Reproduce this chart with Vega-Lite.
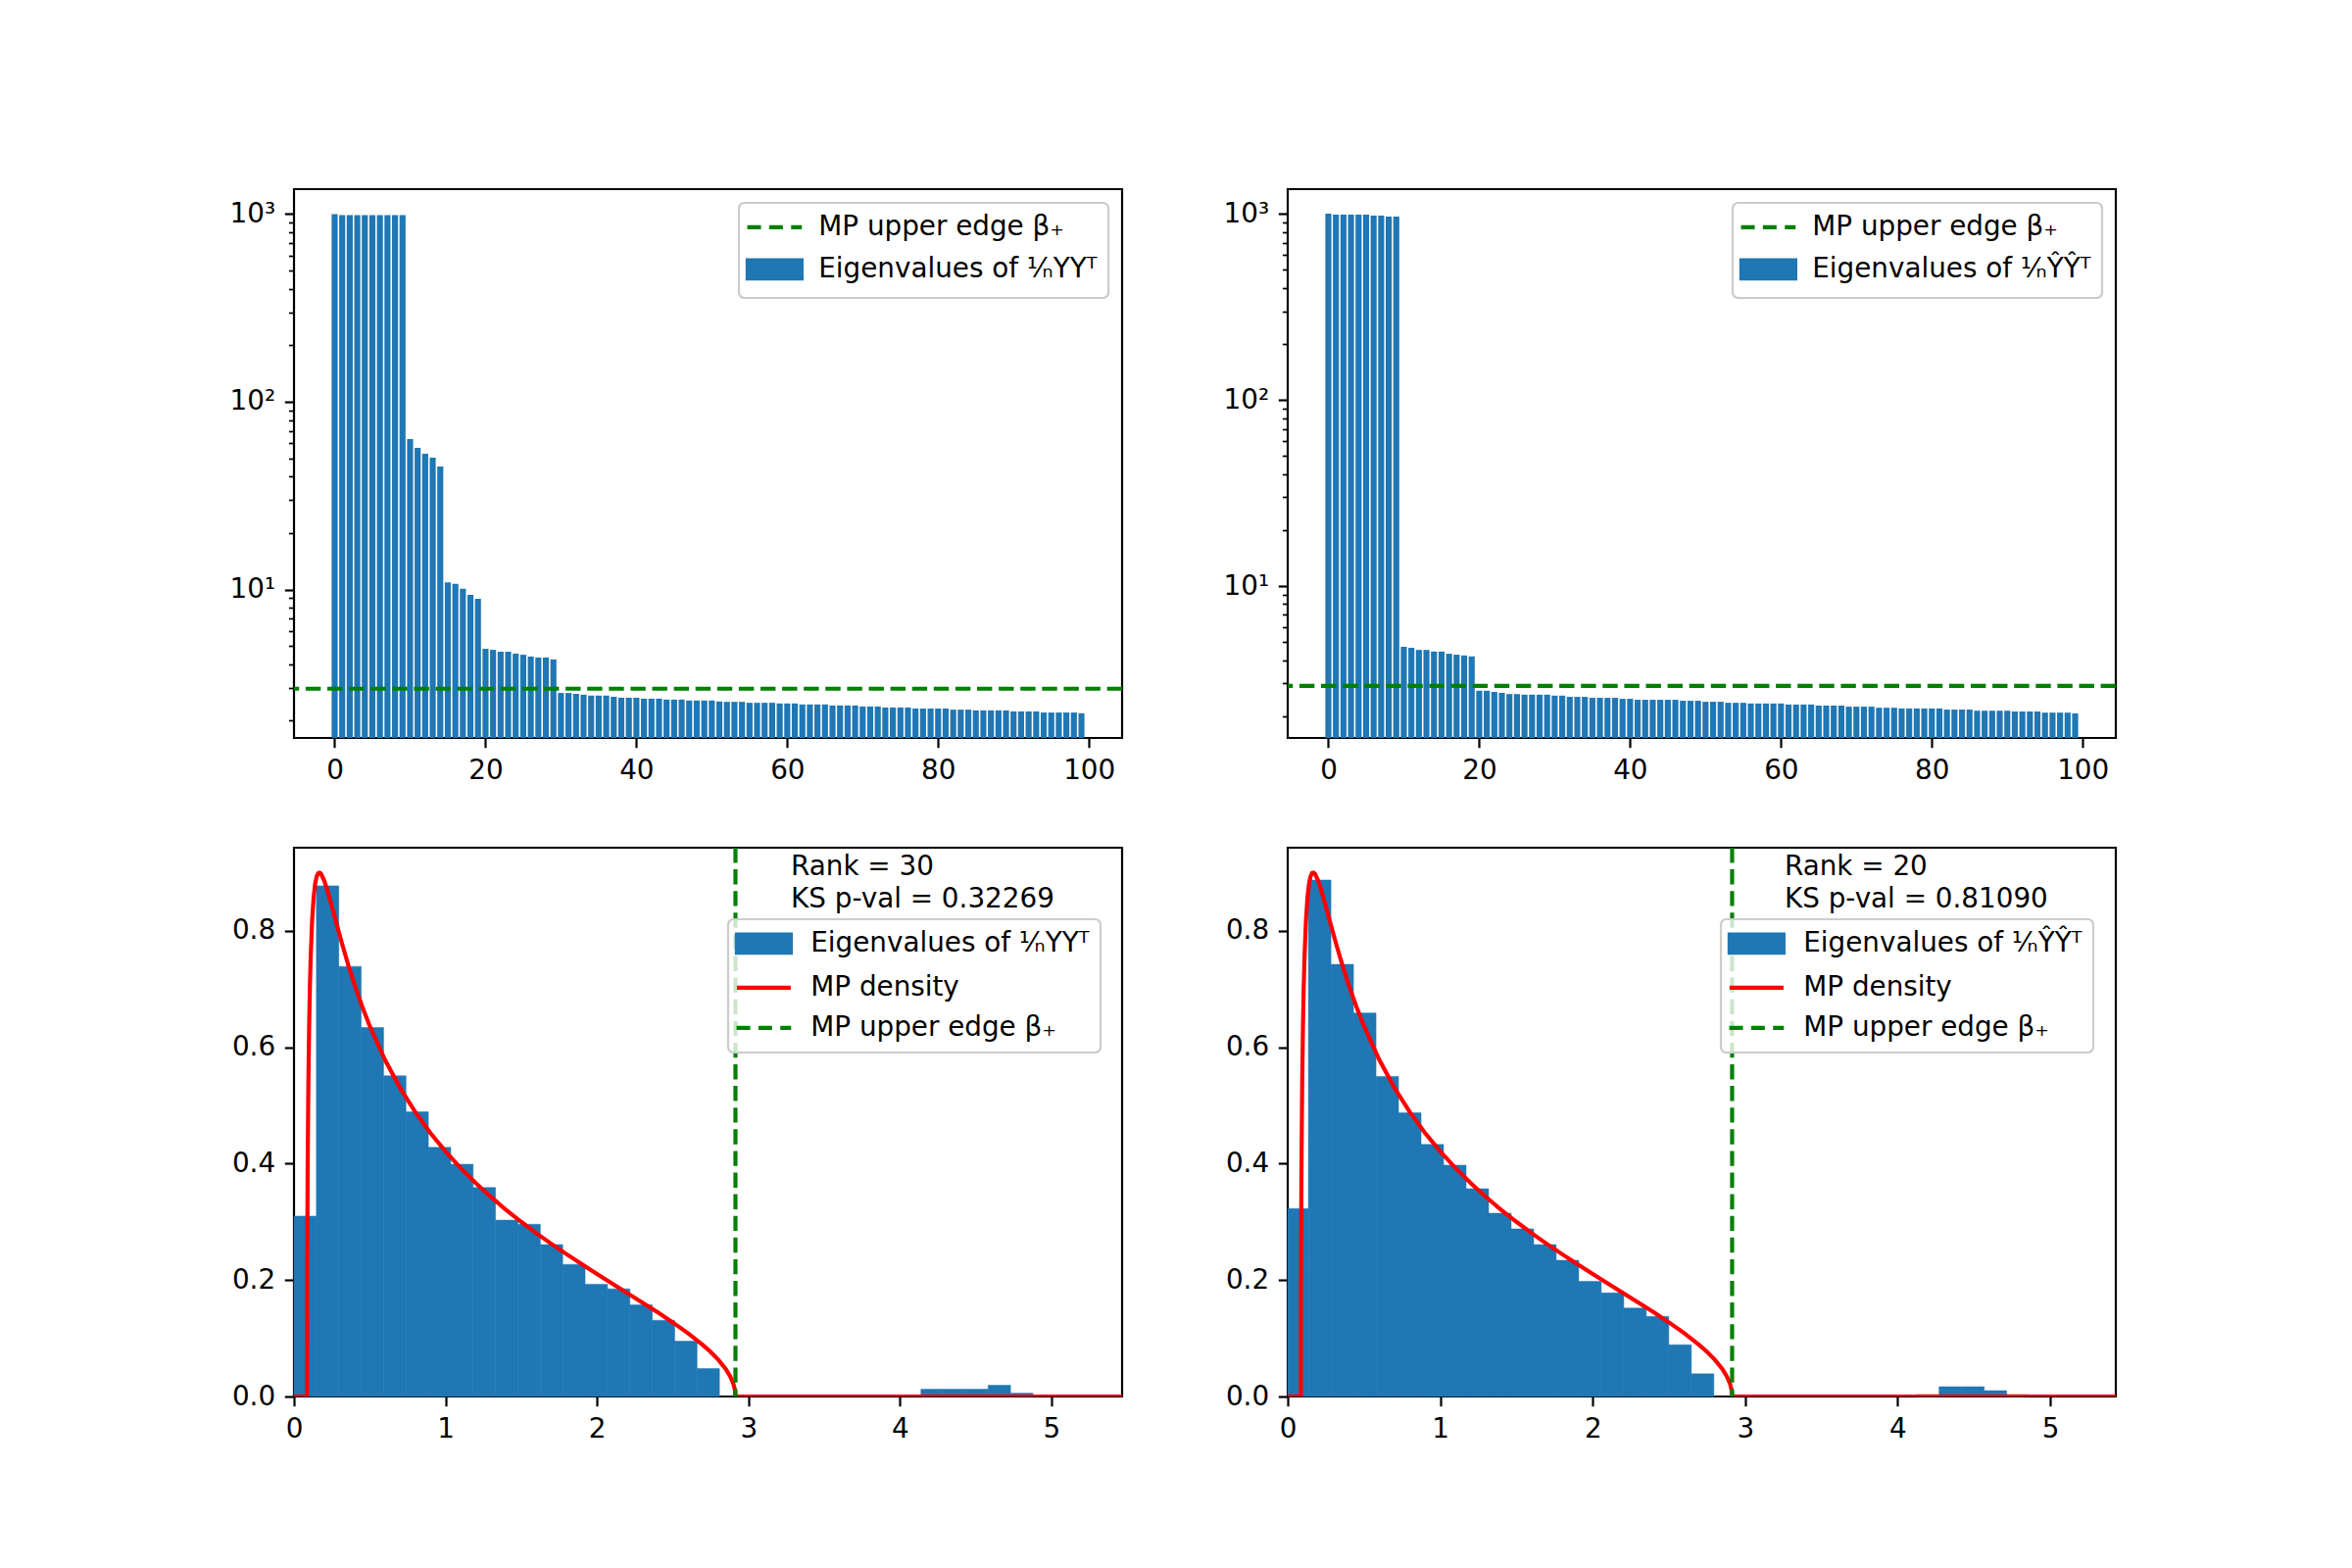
{
  "$schema": "https://vega.github.io/schema/vega-lite/v6.json",
  "background": "white",
  "padding": {"left": 232, "top": 191, "right": 10, "bottom": 10},
  "bounds": "flush",
  "spacing": 672,
  "datasets": {
    "tl": [
      {"i":0,"v":1000},{"i":1,"v":987},{"i":2,"v":987},{"i":3,"v":987},{"i":4,"v":987},{"i":5,"v":987},{"i":6,"v":987},{"i":7,"v":987},{"i":8,"v":987},{"i":9,"v":987},
      {"i":10,"v":63.4},{"i":11,"v":56.9},{"i":12,"v":52.9},{"i":13,"v":50.4},{"i":14,"v":45.2},
      {"i":15,"v":10.9},{"i":16,"v":10.7},{"i":17,"v":10.1},{"i":18,"v":9.35},{"i":19,"v":8.93},
      {"i":20,"v":4.83},{"i":21,"v":4.77},{"i":22,"v":4.66},{"i":23,"v":4.66},{"i":24,"v":4.55},{"i":25,"v":4.49},{"i":26,"v":4.39},{"i":27,"v":4.34},{"i":28,"v":4.34},{"i":29,"v":4.24},
      {"i":30,"v":2.81},{"i":31,"v":2.81},{"i":32,"v":2.78},{"i":33,"v":2.75},{"i":34,"v":2.72},{"i":35,"v":2.72},{"i":36,"v":2.72},{"i":37,"v":2.68},{"i":38,"v":2.65},{"i":39,"v":2.65},
      {"i":40,"v":2.65},{"i":41,"v":2.62},{"i":42,"v":2.62},{"i":43,"v":2.62},{"i":44,"v":2.59},{"i":45,"v":2.59},{"i":46,"v":2.59},{"i":47,"v":2.56},{"i":48,"v":2.56},{"i":49,"v":2.56},
      {"i":50,"v":2.56},{"i":51,"v":2.53},{"i":52,"v":2.52},{"i":53,"v":2.52},{"i":54,"v":2.52},{"i":55,"v":2.49},{"i":56,"v":2.49},{"i":57,"v":2.49},{"i":58,"v":2.49},{"i":59,"v":2.47},
      {"i":60,"v":2.47},{"i":61,"v":2.47},{"i":62,"v":2.44},{"i":63,"v":2.44},{"i":64,"v":2.44},{"i":65,"v":2.44},{"i":66,"v":2.41},{"i":67,"v":2.41},{"i":68,"v":2.41},{"i":69,"v":2.41},
      {"i":70,"v":2.38},{"i":71,"v":2.38},{"i":72,"v":2.38},{"i":73,"v":2.35},{"i":74,"v":2.35},{"i":75,"v":2.35},{"i":76,"v":2.35},{"i":77,"v":2.32},{"i":78,"v":2.32},{"i":79,"v":2.32},
      {"i":80,"v":2.32},{"i":81,"v":2.32},{"i":82,"v":2.29},{"i":83,"v":2.29},{"i":84,"v":2.29},{"i":85,"v":2.27},{"i":86,"v":2.27},{"i":87,"v":2.27},{"i":88,"v":2.27},{"i":89,"v":2.27},
      {"i":90,"v":2.24},{"i":91,"v":2.24},{"i":92,"v":2.24},{"i":93,"v":2.24},{"i":94,"v":2.21},{"i":95,"v":2.21},{"i":96,"v":2.21},{"i":97,"v":2.21},{"i":98,"v":2.21},{"i":99,"v":2.19}
    ],
    "tr": [
      {"i":0,"v":1002},{"i":1,"v":992},{"i":2,"v":992},{"i":3,"v":992},{"i":4,"v":992},{"i":5,"v":992},{"i":6,"v":980},{"i":7,"v":980},{"i":8,"v":967},{"i":9,"v":967},
      {"i":10,"v":4.72},{"i":11,"v":4.66},{"i":12,"v":4.54},{"i":13,"v":4.54},{"i":14,"v":4.45},{"i":15,"v":4.45},{"i":16,"v":4.33},{"i":17,"v":4.28},{"i":18,"v":4.24},{"i":19,"v":4.19},
      {"i":20,"v":2.74},{"i":21,"v":2.74},{"i":22,"v":2.70},{"i":23,"v":2.67},{"i":24,"v":2.63},{"i":25,"v":2.63},{"i":26,"v":2.61},{"i":27,"v":2.61},{"i":28,"v":2.61},{"i":29,"v":2.61},
      {"i":30,"v":2.58},{"i":31,"v":2.58},{"i":32,"v":2.54},{"i":33,"v":2.54},{"i":34,"v":2.54},{"i":35,"v":2.51},{"i":36,"v":2.51},{"i":37,"v":2.51},{"i":38,"v":2.51},{"i":39,"v":2.48},
      {"i":40,"v":2.48},{"i":41,"v":2.45},{"i":42,"v":2.45},{"i":43,"v":2.45},{"i":44,"v":2.45},{"i":45,"v":2.45},{"i":46,"v":2.45},{"i":47,"v":2.42},{"i":48,"v":2.42},{"i":49,"v":2.42},
      {"i":50,"v":2.39},{"i":51,"v":2.39},{"i":52,"v":2.39},{"i":53,"v":2.36},{"i":54,"v":2.36},{"i":55,"v":2.36},{"i":56,"v":2.34},{"i":57,"v":2.34},{"i":58,"v":2.34},{"i":59,"v":2.34},
      {"i":60,"v":2.34},{"i":61,"v":2.31},{"i":62,"v":2.31},{"i":63,"v":2.31},{"i":64,"v":2.31},{"i":65,"v":2.28},{"i":66,"v":2.28},{"i":67,"v":2.28},{"i":68,"v":2.28},{"i":69,"v":2.25},
      {"i":70,"v":2.25},{"i":71,"v":2.25},{"i":72,"v":2.25},{"i":73,"v":2.22},{"i":74,"v":2.22},{"i":75,"v":2.22},{"i":76,"v":2.20},{"i":77,"v":2.20},{"i":78,"v":2.20},{"i":79,"v":2.20},
      {"i":80,"v":2.20},{"i":81,"v":2.20},{"i":82,"v":2.17},{"i":83,"v":2.17},{"i":84,"v":2.17},{"i":85,"v":2.17},{"i":86,"v":2.14},{"i":87,"v":2.14},{"i":88,"v":2.14},{"i":89,"v":2.14},
      {"i":90,"v":2.14},{"i":91,"v":2.12},{"i":92,"v":2.12},{"i":93,"v":2.12},{"i":94,"v":2.12},{"i":95,"v":2.09},{"i":96,"v":2.09},{"i":97,"v":2.09},{"i":98,"v":2.09},{"i":99,"v":2.07}
    ],
    "bl": [
      {"a":0,"b":0.1478,"d":0.31},{"a":0.1478,"b":0.2956,"d":0.8775},{"a":0.2956,"b":0.4434,"d":0.739},{"a":0.4434,"b":0.5912,"d":0.634},
      {"a":0.5912,"b":0.739,"d":0.551},{"a":0.739,"b":0.8868,"d":0.489},{"a":0.8868,"b":1.0346,"d":0.428},{"a":1.0346,"b":1.1824,"d":0.399},
      {"a":1.1824,"b":1.3302,"d":0.359},{"a":1.3302,"b":1.478,"d":0.303},{"a":1.478,"b":1.6258,"d":0.296},{"a":1.6258,"b":1.7736,"d":0.261},
      {"a":1.7736,"b":1.9214,"d":0.227},{"a":1.9214,"b":2.0692,"d":0.193},{"a":2.0692,"b":2.217,"d":0.185},{"a":2.217,"b":2.3648,"d":0.1575},
      {"a":2.3648,"b":2.5126,"d":0.131},{"a":2.5126,"b":2.6604,"d":0.095},{"a":2.6604,"b":2.8082,"d":0.048},
      {"a":4.1384,"b":4.2862,"d":0.0125},{"a":4.2862,"b":4.434,"d":0.0125},{"a":4.434,"b":4.5818,"d":0.0125},{"a":4.5818,"b":4.7296,"d":0.0193},{"a":4.7296,"b":4.8774,"d":0.0057}
    ],
    "br": [
      {"a":0,"b":0.1357,"d":0.323},{"a":0.1357,"b":0.2834,"d":0.8875},{"a":0.2834,"b":0.4311,"d":0.7425},{"a":0.4311,"b":0.5788,"d":0.659},
      {"a":0.5788,"b":0.7265,"d":0.55},{"a":0.7265,"b":0.8742,"d":0.4875},{"a":0.8742,"b":1.0219,"d":0.433},{"a":1.0219,"b":1.1696,"d":0.3975},
      {"a":1.1696,"b":1.3173,"d":0.357},{"a":1.3173,"b":1.465,"d":0.315},{"a":1.465,"b":1.6127,"d":0.288},{"a":1.6127,"b":1.7604,"d":0.261},
      {"a":1.7604,"b":1.9081,"d":0.234},{"a":1.9081,"b":2.0558,"d":0.198},{"a":2.0558,"b":2.2035,"d":0.178},{"a":2.2035,"b":2.3512,"d":0.152},
      {"a":2.3512,"b":2.4989,"d":0.1375},{"a":2.4989,"b":2.6466,"d":0.089},{"a":2.6466,"b":2.7943,"d":0.039},
      {"a":4.1236,"b":4.2713,"d":0.0034},{"a":4.2713,"b":4.419,"d":0.0168},{"a":4.419,"b":4.5667,"d":0.0168},{"a":4.5667,"b":4.7144,"d":0.0101},{"a":4.7144,"b":4.8621,"d":0.0034}
    ],
    "mp": [
      {"x":0,"y":0},{"x":0.0858,"y":0},{"x":0.087,"y":0.214},{"x":0.09,"y":0.3857},{"x":0.095,"y":0.54},{"x":0.10,"y":0.6366},{"x":0.105,"y":0.7042},
      {"x":0.11,"y":0.754},{"x":0.12,"y":0.8201},{"x":0.13,"y":0.859},{"x":0.14,"y":0.8817},{"x":0.15,"y":0.894},{"x":0.16,"y":0.8994},
      {"x":0.17,"y":0.9001},{"x":0.18,"y":0.8975},{"x":0.20,"y":0.8861},{"x":0.22,"y":0.87},{"x":0.25,"y":0.8422},{"x":0.28,"y":0.8131},
      {"x":0.32,"y":0.7754},{"x":0.36,"y":0.74},{"x":0.40,"y":0.7073},{"x":0.45,"y":0.6701},{"x":0.50,"y":0.6366},{"x":0.60,"y":0.5787},
      {"x":0.70,"y":0.5303},{"x":0.80,"y":0.4889},{"x":0.90,"y":0.4529},{"x":1.0,"y":0.4211},{"x":1.1,"y":0.3925},{"x":1.2,"y":0.3666},
      {"x":1.3,"y":0.3428},{"x":1.4,"y":0.3207},{"x":1.5,"y":0.3001},{"x":1.6,"y":0.2806},{"x":1.7,"y":0.2621},{"x":1.8,"y":0.2444},
      {"x":1.9,"y":0.2272},{"x":2.0,"y":0.2105},{"x":2.1,"y":0.1941},{"x":2.2,"y":0.1778},{"x":2.3,"y":0.1614},{"x":2.4,"y":0.1447},
      {"x":2.5,"y":0.1273},{"x":2.6,"y":0.1088},{"x":2.7,"y":0.0882},{"x":2.75,"y":0.0766},{"x":2.8,"y":0.0633},{"x":2.85,"y":0.0471},
      {"x":2.88,"y":0.0342},{"x":2.9,"y":0.022},{"x":2.91,"y":0.0119},{"x":2.9142,"y":0},{"x":5.47,"y":0}
    ]
  },
  "vconcat": [
    {
      "bounds": "flush",
      "spacing": 169,
      "resolve": {"scale": {"color": "independent", "x": "independent", "y": "independent"}, "legend": {"color": "independent"}},
      "hconcat": [
        {
          "width": 845,
          "height": 560,
          "layer": [
            {
              "data": {"name": "tl"},
              "mark": {"type": "bar", "width": 6.16},
              "encoding": {
                "x": {"field": "i", "type": "quantitative", "title": null,
                  "scale": {"domain": [-5.39, 104.39], "nice": false, "zero": false, "padding": 0},
                  "axis": {"values": [0, 20, 40, 60, 80, 100]}},
                "y": {"field": "v", "type": "quantitative", "title": null,
                  "scale": {"type": "log", "domain": [1.618, 1358], "nice": false},
                  "axis": {
                    "values": [2,3,4,5,6,7,8,9,10,20,30,40,50,60,70,80,90,100,200,300,400,500,600,700,800,900,1000],
                    "labelExpr": "datum.value == 1000 ? '10³' : datum.value == 100 ? '10²' : datum.value == 10 ? '10¹' : ''",
                    "tickSize": {"condition": {"test": "datum.value == 10 || datum.value == 100 || datum.value == 1000", "value": 9.7}, "value": 5.6},
                    "tickWidth": {"condition": {"test": "datum.value == 10 || datum.value == 100 || datum.value == 1000", "value": 2.2}, "value": 1.7}
                  }},
                "y2": {"datum": 1.618},
                "color": {"datum": "Eigenvalues of ¹⁄ₙYYᵀ", "type": "nominal",
                  "scale": {"domain": ["MP upper edge β₊", "Eigenvalues of ¹⁄ₙYYᵀ"], "range": ["#008000", "#1f77b4"]},
                  "legend": {
                    "title": null, "orient": "top-right", "offset": 14,
                    "symbolSize": 400, "symbolOffset": 11.5, "labelOffset": 31,
                    "labelFont": "DejaVu Sans", "labelFontSize": 27.8, "labelColor": "black", "labelLimit": 0,
                    "padding": 11, "rowPadding": 11, "strokeColor": "#cccccc", "fillColor": "rgba(255,255,255,0.8)", "cornerRadius": 5.5,
                    "encode": {
                      "legend": {"update": {"strokeWidth": {"value": 2.2}}},
                      "symbols": {"update": {
                        "shape": {"signal": "indexof(datum.value, 'Eigen') == 0 ? 'M-2.75,-0.93H2.75V0.93H-2.75Z' : datum.value == 'MP density' ? 'M-2.75,0H2.75' : 'M-2.785,0H-1.385M-0.555,0H0.845M1.685,0H2.785'"},
                        "fill": {"signal": "indexof(datum.value, 'Eigen') == 0 ? '#1f77b4' : 'transparent'"},
                        "stroke": {"signal": "indexof(datum.value, 'Eigen') == 0 ? 'transparent' : datum.value == 'MP density' ? '#ff0000' : '#008000'"},
                        "strokeWidth": {"value": 4.17},
                        "strokeDash": {"value": []},
                        "opacity": {"value": 1}
                      }}
                    }
                  }}
              }
            },
            {
              "data": {"values": [{}]},
              "mark": {"type": "rule", "strokeDash": [15.4, 6.7], "strokeWidth": 4.17},
              "encoding": {
                "y": {"datum": 2.96, "type": "quantitative"},
                "color": {"datum": "MP upper edge β₊", "type": "nominal",
                  "legend": {
                    "title": null, "orient": "top-right", "offset": 14,
                    "symbolSize": 400, "symbolOffset": 11.5, "labelOffset": 31,
                    "labelFont": "DejaVu Sans", "labelFontSize": 27.8, "labelColor": "black", "labelLimit": 0,
                    "padding": 11, "rowPadding": 11, "strokeColor": "#cccccc", "fillColor": "rgba(255,255,255,0.8)", "cornerRadius": 5.5,
                    "encode": {
                      "legend": {"update": {"strokeWidth": {"value": 2.2}}},
                      "symbols": {"update": {
                        "shape": {"signal": "indexof(datum.value, 'Eigen') == 0 ? 'M-2.75,-0.93H2.75V0.93H-2.75Z' : datum.value == 'MP density' ? 'M-2.75,0H2.75' : 'M-2.785,0H-1.385M-0.555,0H0.845M1.685,0H2.785'"},
                        "fill": {"signal": "indexof(datum.value, 'Eigen') == 0 ? '#1f77b4' : 'transparent'"},
                        "stroke": {"signal": "indexof(datum.value, 'Eigen') == 0 ? 'transparent' : datum.value == 'MP density' ? '#ff0000' : '#008000'"},
                        "strokeWidth": {"value": 4.17},
                        "strokeDash": {"value": []},
                        "opacity": {"value": 1}
                      }}
                    }
                  }}
              }
            }
          ]
        },
        {
          "width": 845,
          "height": 560,
          "layer": [
            {
              "data": {"name": "tr"},
              "mark": {"type": "bar", "width": 6.16},
              "encoding": {
                "x": {"field": "i", "type": "quantitative", "title": null,
                  "scale": {"domain": [-5.39, 104.39], "nice": false, "zero": false, "padding": 0},
                  "axis": {"values": [0, 20, 40, 60, 80, 100]}},
                "y": {"field": "v", "type": "quantitative", "title": null,
                  "scale": {"type": "log", "domain": [1.528, 1358], "nice": false},
                  "axis": {
                    "values": [2,3,4,5,6,7,8,9,10,20,30,40,50,60,70,80,90,100,200,300,400,500,600,700,800,900,1000],
                    "labelExpr": "datum.value == 1000 ? '10³' : datum.value == 100 ? '10²' : datum.value == 10 ? '10¹' : ''",
                    "tickSize": {"condition": {"test": "datum.value == 10 || datum.value == 100 || datum.value == 1000", "value": 9.7}, "value": 5.6},
                    "tickWidth": {"condition": {"test": "datum.value == 10 || datum.value == 100 || datum.value == 1000", "value": 2.2}, "value": 1.7}
                  }},
                "y2": {"datum": 1.528},
                "color": {"datum": "Eigenvalues of ¹⁄ₙŶŶᵀ", "type": "nominal",
                  "scale": {"domain": ["MP upper edge β₊", "Eigenvalues of ¹⁄ₙŶŶᵀ"], "range": ["#008000", "#1f77b4"]},
                  "legend": {
                    "title": null, "orient": "top-right", "offset": 14,
                    "symbolSize": 400, "symbolOffset": 11.5, "labelOffset": 31,
                    "labelFont": "DejaVu Sans", "labelFontSize": 27.8, "labelColor": "black", "labelLimit": 0,
                    "padding": 11, "rowPadding": 11, "strokeColor": "#cccccc", "fillColor": "rgba(255,255,255,0.8)", "cornerRadius": 5.5,
                    "encode": {
                      "legend": {"update": {"strokeWidth": {"value": 2.2}}},
                      "symbols": {"update": {
                        "shape": {"signal": "indexof(datum.value, 'Eigen') == 0 ? 'M-2.75,-0.93H2.75V0.93H-2.75Z' : datum.value == 'MP density' ? 'M-2.75,0H2.75' : 'M-2.785,0H-1.385M-0.555,0H0.845M1.685,0H2.785'"},
                        "fill": {"signal": "indexof(datum.value, 'Eigen') == 0 ? '#1f77b4' : 'transparent'"},
                        "stroke": {"signal": "indexof(datum.value, 'Eigen') == 0 ? 'transparent' : datum.value == 'MP density' ? '#ff0000' : '#008000'"},
                        "strokeWidth": {"value": 4.17},
                        "strokeDash": {"value": []},
                        "opacity": {"value": 1}
                      }}
                    }
                  }}
              }
            },
            {
              "data": {"values": [{}]},
              "mark": {"type": "rule", "strokeDash": [15.4, 6.7], "strokeWidth": 4.17},
              "encoding": {
                "y": {"datum": 2.91, "type": "quantitative"},
                "color": {"datum": "MP upper edge β₊", "type": "nominal",
                  "legend": {
                    "title": null, "orient": "top-right", "offset": 14,
                    "symbolSize": 400, "symbolOffset": 11.5, "labelOffset": 31,
                    "labelFont": "DejaVu Sans", "labelFontSize": 27.8, "labelColor": "black", "labelLimit": 0,
                    "padding": 11, "rowPadding": 11, "strokeColor": "#cccccc", "fillColor": "rgba(255,255,255,0.8)", "cornerRadius": 5.5,
                    "encode": {
                      "legend": {"update": {"strokeWidth": {"value": 2.2}}},
                      "symbols": {"update": {
                        "shape": {"signal": "indexof(datum.value, 'Eigen') == 0 ? 'M-2.75,-0.93H2.75V0.93H-2.75Z' : datum.value == 'MP density' ? 'M-2.75,0H2.75' : 'M-2.785,0H-1.385M-0.555,0H0.845M1.685,0H2.785'"},
                        "fill": {"signal": "indexof(datum.value, 'Eigen') == 0 ? '#1f77b4' : 'transparent'"},
                        "stroke": {"signal": "indexof(datum.value, 'Eigen') == 0 ? 'transparent' : datum.value == 'MP density' ? '#ff0000' : '#008000'"},
                        "strokeWidth": {"value": 4.17},
                        "strokeDash": {"value": []},
                        "opacity": {"value": 1}
                      }}
                    }
                  }}
              }
            }
          ]
        }
      ]
    },
    {
      "bounds": "flush",
      "spacing": 169,
      "resolve": {"scale": {"color": "independent", "x": "independent", "y": "independent"}, "legend": {"color": "independent"}},
      "hconcat": [
        {
          "width": 845,
          "height": 560,
          "layer": [
            {
              "data": {"name": "bl"},
              "mark": {"type": "bar", "stroke": "#1f77b4", "strokeWidth": 0.5},
              "encoding": {
                "x": {"field": "a", "type": "quantitative", "title": null,
                  "scale": {"domain": [0, 5.466], "nice": false, "zero": false, "padding": 0},
                  "axis": {"values": [0, 1, 2, 3, 4, 5], "format": "d"}},
                "x2": {"field": "b"},
                "y": {"field": "d", "type": "quantitative", "title": null,
                  "scale": {"domain": [0, 0.943], "nice": false},
                  "axis": {"values": [0, 0.2, 0.4, 0.6, 0.8], "format": ".1f"}},
                "y2": {"datum": 0},
                "color": {"datum": "Eigenvalues of ¹⁄ₙYYᵀ", "type": "nominal",
                  "scale": {"domain": ["Eigenvalues of ¹⁄ₙYYᵀ", "MP density", "MP upper edge β₊"], "range": ["#1f77b4", "#ff0000", "#008000"]},
                  "legend": {
                    "title": null, "orient": "none", "legendX": 443, "legendY": 73,
                    "symbolSize": 400, "symbolOffset": 11.5, "labelOffset": 34,
                    "labelFont": "DejaVu Sans", "labelFontSize": 27.8, "labelColor": "black", "labelLimit": 0,
                    "padding": 11, "rowPadding": 12, "strokeColor": "#cccccc", "fillColor": "rgba(255,255,255,0.8)", "cornerRadius": 5.5,
                    "encode": {
                      "legend": {"update": {"strokeWidth": {"value": 2.2}}},
                      "symbols": {"update": {
                        "shape": {"signal": "indexof(datum.value, 'Eigen') == 0 ? 'M-2.75,-0.93H2.75V0.93H-2.75Z' : datum.value == 'MP density' ? 'M-2.75,0H2.75' : 'M-2.785,0H-1.385M-0.555,0H0.845M1.685,0H2.785'"},
                        "fill": {"signal": "indexof(datum.value, 'Eigen') == 0 ? '#1f77b4' : 'transparent'"},
                        "stroke": {"signal": "indexof(datum.value, 'Eigen') == 0 ? 'transparent' : datum.value == 'MP density' ? '#ff0000' : '#008000'"},
                        "strokeWidth": {"value": 4.17},
                        "strokeDash": {"value": []},
                        "opacity": {"value": 1}
                      }}
                    }
                  }}
              }
            },
            {
              "data": {"name": "mp"},
              "mark": {"type": "line", "strokeWidth": 4.17, "clip": true},
              "encoding": {
                "x": {"field": "x", "type": "quantitative"},
                "y": {"field": "y", "type": "quantitative"},
                "color": {"datum": "MP density", "type": "nominal",
                  "legend": {
                    "title": null, "orient": "none", "legendX": 443, "legendY": 73,
                    "symbolSize": 400, "symbolOffset": 11.5, "labelOffset": 34,
                    "labelFont": "DejaVu Sans", "labelFontSize": 27.8, "labelColor": "black", "labelLimit": 0,
                    "padding": 11, "rowPadding": 12, "strokeColor": "#cccccc", "fillColor": "rgba(255,255,255,0.8)", "cornerRadius": 5.5,
                    "encode": {
                      "legend": {"update": {"strokeWidth": {"value": 2.2}}},
                      "symbols": {"update": {
                        "shape": {"signal": "indexof(datum.value, 'Eigen') == 0 ? 'M-2.75,-0.93H2.75V0.93H-2.75Z' : datum.value == 'MP density' ? 'M-2.75,0H2.75' : 'M-2.785,0H-1.385M-0.555,0H0.845M1.685,0H2.785'"},
                        "fill": {"signal": "indexof(datum.value, 'Eigen') == 0 ? '#1f77b4' : 'transparent'"},
                        "stroke": {"signal": "indexof(datum.value, 'Eigen') == 0 ? 'transparent' : datum.value == 'MP density' ? '#ff0000' : '#008000'"},
                        "strokeWidth": {"value": 4.17},
                        "strokeDash": {"value": []},
                        "opacity": {"value": 1}
                      }}
                    }
                  }}
              }
            },
            {
              "data": {"values": [{}]},
              "mark": {"type": "rule", "strokeDash": [15.4, 6.7], "strokeWidth": 4.17},
              "encoding": {
                "x": {"datum": 2.914, "type": "quantitative"},
                "color": {"datum": "MP upper edge β₊", "type": "nominal",
                  "legend": {
                    "title": null, "orient": "none", "legendX": 443, "legendY": 73,
                    "symbolSize": 400, "symbolOffset": 11.5, "labelOffset": 34,
                    "labelFont": "DejaVu Sans", "labelFontSize": 27.8, "labelColor": "black", "labelLimit": 0,
                    "padding": 11, "rowPadding": 12, "strokeColor": "#cccccc", "fillColor": "rgba(255,255,255,0.8)", "cornerRadius": 5.5,
                    "encode": {
                      "legend": {"update": {"strokeWidth": {"value": 2.2}}},
                      "symbols": {"update": {
                        "shape": {"signal": "indexof(datum.value, 'Eigen') == 0 ? 'M-2.75,-0.93H2.75V0.93H-2.75Z' : datum.value == 'MP density' ? 'M-2.75,0H2.75' : 'M-2.785,0H-1.385M-0.555,0H0.845M1.685,0H2.785'"},
                        "fill": {"signal": "indexof(datum.value, 'Eigen') == 0 ? '#1f77b4' : 'transparent'"},
                        "stroke": {"signal": "indexof(datum.value, 'Eigen') == 0 ? 'transparent' : datum.value == 'MP density' ? '#ff0000' : '#008000'"},
                        "strokeWidth": {"value": 4.17},
                        "strokeDash": {"value": []},
                        "opacity": {"value": 1}
                      }}
                    }
                  }}
              }
            },
            {
              "data": {"values": [{"x": 3.28, "y": 0.896, "t": "Rank = 30"}, {"x": 3.28, "y": 0.84, "t": "KS p-val = 0.32269"}]},
              "mark": {"type": "text", "align": "left", "baseline": "alphabetic", "color": "black", "font": "DejaVu Sans", "fontSize": 27.8},
              "encoding": {
                "x": {"field": "x", "type": "quantitative"},
                "y": {"field": "y", "type": "quantitative"},
                "text": {"field": "t"}
              }
            }
          ]
        },
        {
          "width": 845,
          "height": 560,
          "layer": [
            {
              "data": {"name": "br"},
              "mark": {"type": "bar", "stroke": "#1f77b4", "strokeWidth": 0.5},
              "encoding": {
                "x": {"field": "a", "type": "quantitative", "title": null,
                  "scale": {"domain": [0, 5.43], "nice": false, "zero": false, "padding": 0},
                  "axis": {"values": [0, 1, 2, 3, 4, 5], "format": "d"}},
                "x2": {"field": "b"},
                "y": {"field": "d", "type": "quantitative", "title": null,
                  "scale": {"domain": [0, 0.943], "nice": false},
                  "axis": {"values": [0, 0.2, 0.4, 0.6, 0.8], "format": ".1f"}},
                "y2": {"datum": 0},
                "color": {"datum": "Eigenvalues of ¹⁄ₙŶŶᵀ", "type": "nominal",
                  "scale": {"domain": ["Eigenvalues of ¹⁄ₙŶŶᵀ", "MP density", "MP upper edge β₊"], "range": ["#1f77b4", "#ff0000", "#008000"]},
                  "legend": {
                    "title": null, "orient": "none", "legendX": 442, "legendY": 73,
                    "symbolSize": 400, "symbolOffset": 11.5, "labelOffset": 34,
                    "labelFont": "DejaVu Sans", "labelFontSize": 27.8, "labelColor": "black", "labelLimit": 0,
                    "padding": 11, "rowPadding": 12, "strokeColor": "#cccccc", "fillColor": "rgba(255,255,255,0.8)", "cornerRadius": 5.5,
                    "encode": {
                      "legend": {"update": {"strokeWidth": {"value": 2.2}}},
                      "symbols": {"update": {
                        "shape": {"signal": "indexof(datum.value, 'Eigen') == 0 ? 'M-2.75,-0.93H2.75V0.93H-2.75Z' : datum.value == 'MP density' ? 'M-2.75,0H2.75' : 'M-2.785,0H-1.385M-0.555,0H0.845M1.685,0H2.785'"},
                        "fill": {"signal": "indexof(datum.value, 'Eigen') == 0 ? '#1f77b4' : 'transparent'"},
                        "stroke": {"signal": "indexof(datum.value, 'Eigen') == 0 ? 'transparent' : datum.value == 'MP density' ? '#ff0000' : '#008000'"},
                        "strokeWidth": {"value": 4.17},
                        "strokeDash": {"value": []},
                        "opacity": {"value": 1}
                      }}
                    }
                  }}
              }
            },
            {
              "data": {"name": "mp"},
              "mark": {"type": "line", "strokeWidth": 4.17, "clip": true},
              "encoding": {
                "x": {"field": "x", "type": "quantitative"},
                "y": {"field": "y", "type": "quantitative"},
                "color": {"datum": "MP density", "type": "nominal",
                  "legend": {
                    "title": null, "orient": "none", "legendX": 442, "legendY": 73,
                    "symbolSize": 400, "symbolOffset": 11.5, "labelOffset": 34,
                    "labelFont": "DejaVu Sans", "labelFontSize": 27.8, "labelColor": "black", "labelLimit": 0,
                    "padding": 11, "rowPadding": 12, "strokeColor": "#cccccc", "fillColor": "rgba(255,255,255,0.8)", "cornerRadius": 5.5,
                    "encode": {
                      "legend": {"update": {"strokeWidth": {"value": 2.2}}},
                      "symbols": {"update": {
                        "shape": {"signal": "indexof(datum.value, 'Eigen') == 0 ? 'M-2.75,-0.93H2.75V0.93H-2.75Z' : datum.value == 'MP density' ? 'M-2.75,0H2.75' : 'M-2.785,0H-1.385M-0.555,0H0.845M1.685,0H2.785'"},
                        "fill": {"signal": "indexof(datum.value, 'Eigen') == 0 ? '#1f77b4' : 'transparent'"},
                        "stroke": {"signal": "indexof(datum.value, 'Eigen') == 0 ? 'transparent' : datum.value == 'MP density' ? '#ff0000' : '#008000'"},
                        "strokeWidth": {"value": 4.17},
                        "strokeDash": {"value": []},
                        "opacity": {"value": 1}
                      }}
                    }
                  }}
              }
            },
            {
              "data": {"values": [{}]},
              "mark": {"type": "rule", "strokeDash": [15.4, 6.7], "strokeWidth": 4.17},
              "encoding": {
                "x": {"datum": 2.914, "type": "quantitative"},
                "color": {"datum": "MP upper edge β₊", "type": "nominal",
                  "legend": {
                    "title": null, "orient": "none", "legendX": 442, "legendY": 73,
                    "symbolSize": 400, "symbolOffset": 11.5, "labelOffset": 34,
                    "labelFont": "DejaVu Sans", "labelFontSize": 27.8, "labelColor": "black", "labelLimit": 0,
                    "padding": 11, "rowPadding": 12, "strokeColor": "#cccccc", "fillColor": "rgba(255,255,255,0.8)", "cornerRadius": 5.5,
                    "encode": {
                      "legend": {"update": {"strokeWidth": {"value": 2.2}}},
                      "symbols": {"update": {
                        "shape": {"signal": "indexof(datum.value, 'Eigen') == 0 ? 'M-2.75,-0.93H2.75V0.93H-2.75Z' : datum.value == 'MP density' ? 'M-2.75,0H2.75' : 'M-2.785,0H-1.385M-0.555,0H0.845M1.685,0H2.785'"},
                        "fill": {"signal": "indexof(datum.value, 'Eigen') == 0 ? '#1f77b4' : 'transparent'"},
                        "stroke": {"signal": "indexof(datum.value, 'Eigen') == 0 ? 'transparent' : datum.value == 'MP density' ? '#ff0000' : '#008000'"},
                        "strokeWidth": {"value": 4.17},
                        "strokeDash": {"value": []},
                        "opacity": {"value": 1}
                      }}
                    }
                  }}
              }
            },
            {
              "data": {"values": [{"x": 3.258, "y": 0.896, "t": "Rank = 20"}, {"x": 3.258, "y": 0.84, "t": "KS p-val = 0.81090"}]},
              "mark": {"type": "text", "align": "left", "baseline": "alphabetic", "color": "black", "font": "DejaVu Sans", "fontSize": 27.8},
              "encoding": {
                "x": {"field": "x", "type": "quantitative"},
                "y": {"field": "y", "type": "quantitative"},
                "text": {"field": "t"}
              }
            }
          ]
        }
      ]
    }
  ],
  "resolve": {"scale": {"color": "independent", "x": "independent", "y": "independent"}, "legend": {"color": "independent"}},
  "config": {
    "font": "DejaVu Sans",
    "view": {"stroke": "black", "strokeWidth": 2.2},
    "axis": {
      "labelFont": "DejaVu Sans",
      "labelFontSize": 27.8,
      "labelColor": "black",
      "tickColor": "black",
      "tickSize": 9.7,
      "tickWidth": 2.2,
      "labelPadding": 9.7,
      "domain": false,
      "grid": false,
      "labelOverlap": false,
      "labelFlush": false
    }
  }
}
